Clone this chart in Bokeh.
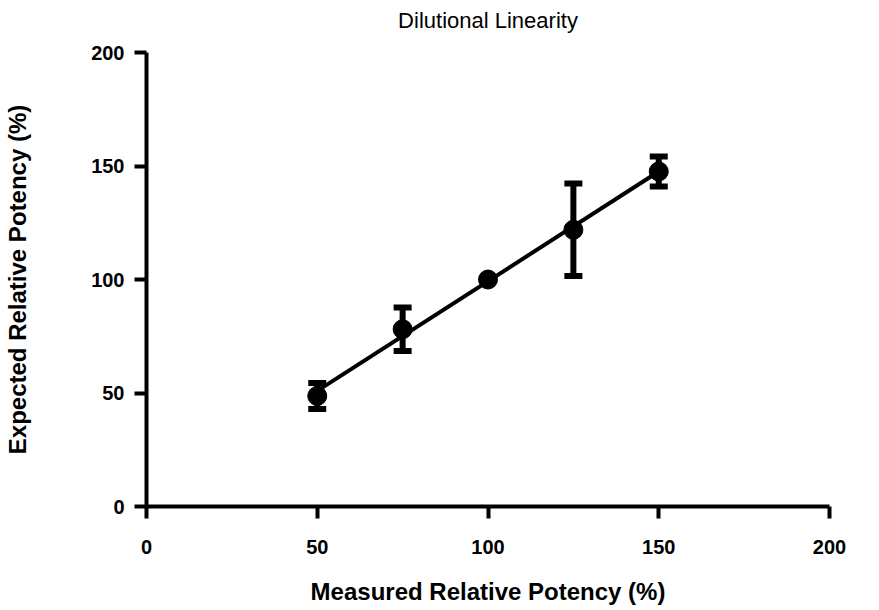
import numpy as np
from bokeh.plotting import figure
from bokeh.models import FixedTicker, Range1d, ColumnDataSource, Title
from bokeh.embed import file_html
from bokeh.resources import INLINE

# ---- data ----
measured = [50, 75, 100, 125, 150]          # Measured Relative Potency (%)
expected = [48.7, 78.1, 100.0, 121.9, 147.6]  # Expected Relative Potency (%)
error = [5.7, 9.6, 0.0, 20.4, 6.6]            # error bar half-length
tick_values = [0, 50, 100, 150, 200]
title_text = "Dilutional Linearity"

FONT = "Liberation Sans"

x = np.array(measured, dtype=float)
y = np.array(expected, dtype=float)
e = np.array(error, dtype=float)

src = ColumnDataSource(dict(x=x, y=y, lo=y - e, hi=y + e))

# linear fit through the points
slope, intercept = np.polyfit(x, y, 1)
fx = np.array([x.min(), x.max()])
fy = slope * fx + intercept

p = figure(frame_width=683, frame_height=454,
           min_border_left=146, min_border_right=42,
           min_border_top=52, min_border_bottom=96,
           x_range=Range1d(tick_values[0], tick_values[-1]),
           y_range=Range1d(tick_values[0], tick_values[-1]),
           output_backend="svg", toolbar_location=None,
           title=None)

# spacer between frame and title (keeps the title higher up)
p.add_layout(Title(text=" ", text_font_size="2px", standoff=16), "above")
# actual title
p.add_layout(Title(text=title_text, align="center", standoff=0,
                   text_font=FONT, text_font_size="22px",
                   text_font_style="normal", text_color="black"), "above")

p.outline_line_color = None
p.xgrid.visible = False
p.ygrid.visible = False
p.background_fill_color = "white"
p.border_fill_color = "white"

for ax in (p.xaxis[0], p.yaxis[0]):
    ax.ticker = FixedTicker(ticks=tick_values)
    ax.axis_line_width = 4
    ax.axis_line_color = "black"
    ax.major_tick_line_width = 4
    ax.major_tick_line_color = "black"
    ax.major_tick_out = 12
    ax.major_tick_in = 0
    ax.minor_tick_line_color = None
    ax.major_label_text_font = FONT
    ax.major_label_text_font_size = "20px"
    ax.major_label_text_font_style = "bold"
    ax.major_label_text_color = "black"
    ax.axis_label_text_font = FONT
    ax.axis_label_text_font_size = "24px"
    ax.axis_label_text_font_style = "bold"
    ax.axis_label_text_color = "black"

p.xaxis.axis_label = "Measured Relative Potency (%)"
p.yaxis.axis_label = "Expected Relative Potency (%)"
p.xaxis.major_label_standoff = 21
p.yaxis.major_label_standoff = 10
p.xaxis.axis_label_standoff = 21
p.yaxis.axis_label_standoff = 57

# fit line
p.line(fx, fy, line_width=4, line_color="black")

# error bars
p.segment(x0="x", y0="lo", x1="x", y1="hi", source=src,
          line_width=6, line_color="black")
p.rect(x="x", y="hi", width=18, height=6, width_units="screen",
       height_units="screen", source=src, fill_color="black", line_color=None)
p.rect(x="x", y="lo", width=18, height=6, width_units="screen",
       height_units="screen", source=src, fill_color="black", line_color=None)

# points
p.scatter(x="x", y="y", source=src, size=19, marker="circle",
          fill_color="black", line_color="black")

open("out.html", "w").write(file_html(p, INLINE))
